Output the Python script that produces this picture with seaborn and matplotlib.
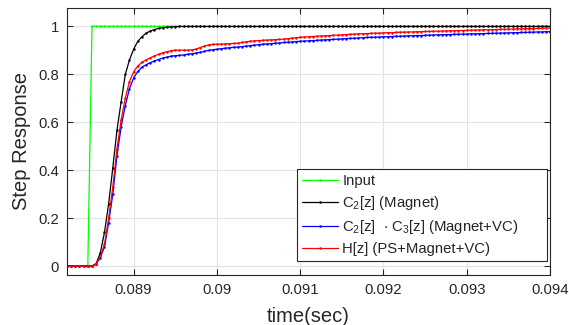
import numpy as np
import pandas as pd
import matplotlib
matplotlib.use("Agg")
import matplotlib.pyplot as plt
import seaborn as sns

# ---------------- data ----------------
t_start = 0.0882
t_step = 0.00005

input_vals = [
    0, 0, 0, 0, 0, 0, 1, 1, 1, 1,
    1, 1, 1, 1, 1, 1, 1, 1, 1, 1,
    1, 1, 1, 1, 1, 1, 1, 1, 1, 1,
    1, 1, 1, 1, 1, 1, 1, 1, 1, 1,
    1, 1, 1, 1, 1, 1, 1, 1, 1, 1,
    1, 1, 1, 1, 1, 1, 1, 1, 1, 1,
    1, 1, 1, 1, 1, 1, 1, 1, 1, 1,
    1, 1, 1, 1, 1, 1, 1, 1, 1, 1,
    1, 1, 1, 1, 1, 1, 1, 1, 1, 1,
    1, 1, 1, 1, 1, 1, 1, 1, 1, 1,
    1, 1, 1, 1, 1, 1, 1, 1, 1, 1,
    1, 1, 1, 1, 1, 1, 1,
]

c2_magnet = [
    0.0, 0.0, 0.0, 0.0, 0.0, 0.0, 0.0, 0.01, 0.055, 0.14,
    0.26, 0.41, 0.567, 0.685, 0.80, 0.86, 0.905, 0.938, 0.957, 0.972,
    0.981, 0.987, 0.992, 0.995, 0.997, 0.998, 0.999, 1.0, 1.0, 1.0,
    1.0, 1.0, 1.0, 1.0, 1.0, 1.0, 1.0, 1.0, 1.0, 1.0,
    1.0, 1.0, 1.0, 1.0, 1.0, 1.0, 1.0, 1.0, 1.0, 1.0,
    1.0, 1.0, 1.0, 1.0, 1.0, 1.0, 1.0, 1.0, 1.0, 1.0,
    1.0, 1.0, 1.0, 1.0, 1.0, 1.0, 1.0, 1.0, 1.0, 1.0,
    1.0, 1.0, 1.0, 1.0, 1.0, 1.0, 1.0, 1.0, 1.0, 1.0,
    1.0, 1.0, 1.0, 1.0, 1.0, 1.0, 1.0, 1.0, 1.0, 1.0,
    1.0, 1.0, 1.0, 1.0, 1.0, 1.0, 1.0, 1.0, 1.0, 1.0,
    1.0, 1.0, 1.0, 1.0, 1.0, 1.0, 1.0, 1.0, 1.0, 1.0,
    1.0, 1.0, 1.0, 1.0, 1.0, 1.0, 1.0,
]

c2c3_magnet_vc = [
    0.0, 0.0, 0.0, 0.0, 0.0, 0.0, 0.0, 0.008, 0.035, 0.08,
    0.18, 0.30, 0.46, 0.58, 0.67, 0.74, 0.785, 0.812, 0.83, 0.84,
    0.849, 0.856, 0.862, 0.868, 0.872, 0.876, 0.878, 0.879, 0.881, 0.884,
    0.886, 0.889, 0.892, 0.896, 0.900, 0.903, 0.905, 0.907, 0.909, 0.911,
    0.913, 0.914, 0.916, 0.918, 0.920, 0.922, 0.924, 0.926, 0.927, 0.928,
    0.930, 0.931, 0.933, 0.934, 0.935, 0.937, 0.938, 0.939, 0.940, 0.941,
    0.942, 0.943, 0.944, 0.945, 0.946, 0.947, 0.948, 0.949, 0.950, 0.951,
    0.952, 0.953, 0.954, 0.955, 0.955, 0.956, 0.957, 0.957, 0.958, 0.959,
    0.959, 0.960, 0.961, 0.961, 0.962, 0.962, 0.963, 0.964, 0.964, 0.965,
    0.965, 0.966, 0.966, 0.967, 0.967, 0.968, 0.968, 0.969, 0.969, 0.970,
    0.970, 0.971, 0.971, 0.972, 0.972, 0.973, 0.973, 0.974, 0.974, 0.975,
    0.975, 0.976, 0.976, 0.977, 0.977, 0.978, 0.978,
]

h_ps_magnet_vc = [
    0.0, 0.0, 0.0, 0.0, 0.0, 0.0, 0.0, 0.01, 0.04, 0.09,
    0.20, 0.33, 0.49, 0.61, 0.70, 0.77, 0.81, 0.835, 0.851, 0.86,
    0.869, 0.877, 0.884, 0.89, 0.895, 0.899, 0.901, 0.901, 0.901, 0.901,
    0.902, 0.906, 0.912, 0.918, 0.923, 0.925, 0.926, 0.926, 0.927, 0.928,
    0.929, 0.930, 0.933, 0.936, 0.938, 0.940, 0.941, 0.942, 0.943, 0.944,
    0.945, 0.946, 0.947, 0.949, 0.951, 0.953, 0.955, 0.956, 0.957, 0.958,
    0.959, 0.960, 0.961, 0.962, 0.963, 0.964, 0.965, 0.966, 0.967, 0.968,
    0.969, 0.970, 0.970, 0.971, 0.972, 0.972, 0.973, 0.974, 0.974, 0.975,
    0.976, 0.976, 0.977, 0.977, 0.978, 0.978, 0.979, 0.979, 0.980, 0.980,
    0.981, 0.981, 0.982, 0.982, 0.983, 0.983, 0.984, 0.984, 0.985, 0.985,
    0.986, 0.986, 0.987, 0.987, 0.988, 0.988, 0.989, 0.989, 0.990, 0.990,
    0.991, 0.991, 0.991, 0.992, 0.992, 0.993, 0.993,
]

series_labels = [
    "Input",
    "C$_2$[z] (Magnet)",
    "C$_2$[z]  $\\cdot$ C$_3$[z] (Magnet+VC)",
    "H[z] (PS+Magnet+VC)",
]
series_colors = ["#00ff00", "#000000", "#0000ff", "#ff0000"]

x_ticks = [0.089, 0.090, 0.091, 0.092, 0.093, 0.094]
x_tick_labels = ["0.089", "0.09", "0.091", "0.092", "0.093", "0.094"]
y_ticks = [0, 0.2, 0.4, 0.6, 0.8, 1.0]
y_tick_labels = ["0", "0.2", "0.4", "0.6", "0.8", "1"]

n = len(input_vals)
assert n == len(c2_magnet) == len(c2c3_magnet_vc) == len(h_ps_magnet_vc)
t = t_start + t_step * np.arange(n)

df = pd.DataFrame({
    "t": np.concatenate([t, t, t, t]),
    "y": np.concatenate([input_vals, c2_magnet, c2c3_magnet_vc, h_ps_magnet_vc]),
    "series": np.repeat(series_labels, n),
})

# ---------------- style ----------------
sns.set_style("whitegrid")
plt.rcParams["font.family"] = ["Liberation Sans", "DejaVu Sans"]
plt.rcParams["mathtext.fontset"] = "custom"
plt.rcParams["mathtext.rm"] = "Liberation Sans"
plt.rcParams["mathtext.it"] = "Liberation Sans"
plt.rcParams["mathtext.default"] = "regular"

fig = plt.figure(figsize=(5.69, 3.25), dpi=100)
ax = fig.add_axes([67 / 569, 50 / 325, 483 / 569, 267 / 325])

sns.lineplot(
    data=df, x="t", y="y", hue="series", hue_order=series_labels,
    palette=series_colors, marker=".", markersize=3.5, markeredgewidth=0,
    linewidth=0.9, ax=ax, sort=False, estimator=None,
)

ax.set_xlim(0.0882, 0.094)
ax.set_ylim(-0.0375, 1.077)
ax.set_xticks(x_ticks)
ax.set_xticklabels(x_tick_labels)
ax.set_yticks(y_ticks)
ax.set_yticklabels(y_tick_labels)

ax.grid(True, color="#e3e3e3", linewidth=0.8)
for s in ax.spines.values():
    s.set_visible(True)
    s.set_color("#262626")
    s.set_linewidth(0.8)

ax.tick_params(axis="both", which="both", direction="in", length=4,
               width=0.8, color="#262626", labelsize=10.7, labelcolor="#262626",
               top=True, right=True, bottom=True, left=True, pad=6)

ax.set_xlabel("time(sec)", fontsize=14.5, color="#262626", labelpad=7)
ax.set_ylabel("Step Response", fontsize=14.5, color="#262626", labelpad=5)

leg = ax.legend(
    loc="lower left", bbox_to_anchor=(0.476, 0.052, 0.518, 0.334),
    mode="expand", borderaxespad=0,
    fontsize=10.7, frameon=True, fancybox=False, framealpha=1,
    edgecolor="#262626", handlelength=2.4, labelspacing=0.4,
    handletextpad=0.3, borderpad=0.35,
)
leg.get_frame().set_linewidth(0.8)

fig.savefig("out.png", dpi=100)
